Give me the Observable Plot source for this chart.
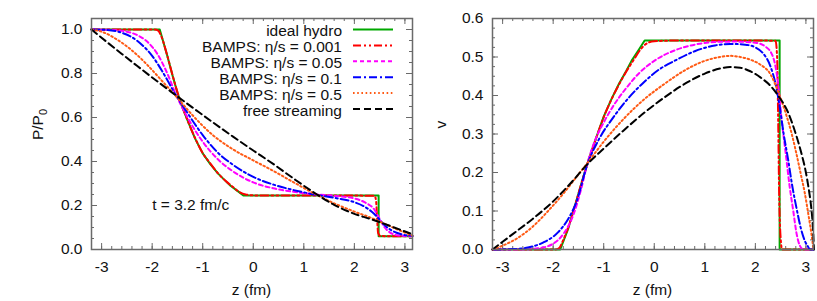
<!DOCTYPE html>
<html><head><meta charset="utf-8">
<script src="https://cdn.jsdelivr.net/npm/d3@7"></script>
<script src="https://cdn.jsdelivr.net/npm/@observablehq/plot@0.6"></script>
<style>
body{margin:0;background:#fff;}
#wrap{position:relative;width:817px;height:301px;overflow:hidden;background:#fff;}
#wrap svg{position:absolute;top:0;background:transparent;}
</style></head><body><div id="wrap"></div>
<script>
// ---------- series ----------
const seriesNames = ["ideal hydro", "BAMPS: η/s = 0.001", "BAMPS: η/s = 0.05", "BAMPS: η/s = 0.1", "BAMPS: η/s = 0.5", "free streaming"];
const seriesColors = ["#00a800", "#ff0000", "#ff00ff", "#0000ff", "#ff5a14", "#000000"];
const seriesDash = [null, "8,3,2,3,2,3", "4,3", "8,3,2,3", "1.6,2.6", "7,4"];

// ---------- axes ----------
const xTicks = [-3, -2, -1, 0, 1, 2, 3];
const pTicks = [0, 0.2, 0.4, 0.6, 0.8, 1.0];
const vTicks = [0, 0.1, 0.2, 0.3, 0.4, 0.5, 0.6];
const annotation = "t = 3.2 fm/c";
const annotationAt = [-2.0, 0.2];

// ---------- left panel: P/P0 vs z ----------
const zP_ideal = [-3.2, -1.85, -1.7, -1.6, -1.5, -1.4, -1.3, -1.15, -1.0, -0.85, -0.7, -0.55, -0.45, -0.3, -0.19, 2.48, 2.48, 3.15];
const P_ideal  = [1, 1, 0.88, 0.793, 0.713, 0.645, 0.587, 0.504, 0.437, 0.388, 0.346, 0.312, 0.29, 0.264, 0.245, 0.245, 0.06, 0.06];

const zP_001 = [-3.2, -1.95, -1.88, -1.82, -1.7, -1.6, -1.5, -1.4, -1.3, -1.15, -1.0, -0.85, -0.7, -0.55, -0.4, -0.28, -0.15, 0.0, 0.5, 2.0, 2.4, 2.43, 2.45, 2.47, 2.52, 3.15];
const P_001  = [1, 1, 0.995, 0.97, 0.88, 0.795, 0.715, 0.647, 0.587, 0.506, 0.438, 0.391, 0.347, 0.312, 0.284, 0.262, 0.25, 0.246, 0.245, 0.245, 0.244, 0.22, 0.14, 0.075, 0.061, 0.06];

const zP_005 = [-3.2, -2.8, -2.5, -2.3, -2.1, -1.9, -1.7, -1.54, -1.3, -1.0, -0.7, -0.4, 0.0, 0.4, 0.8, 1.26, 1.6, 2.0, 2.2, 2.4, 2.5, 2.6, 2.7, 2.85, 3.15];
const P_005  = [1, 0.998, 0.99, 0.975, 0.945, 0.89, 0.8, 0.71, 0.6, 0.49, 0.41, 0.355, 0.305, 0.278, 0.262, 0.25, 0.244, 0.232, 0.215, 0.18, 0.14, 0.1, 0.078, 0.065, 0.06];

const zP_01 = [-3.2, -2.9, -2.6, -2.4, -2.2, -2.0, -1.8, -1.54, -1.3, -1.0, -0.7, -0.4, 0.0, 0.4, 0.8, 1.26, 1.6, 2.0, 2.2, 2.4, 2.5, 2.6, 2.75, 2.95, 3.15];
const P_01  = [1, 0.998, 0.985, 0.965, 0.93, 0.88, 0.81, 0.705, 0.62, 0.52, 0.44, 0.385, 0.33, 0.295, 0.27, 0.248, 0.235, 0.215, 0.195, 0.16, 0.135, 0.11, 0.085, 0.068, 0.062];

const zP_05 = [-3.2, -3.0, -2.7, -2.4, -2.1, -1.8, -1.54, -1.2, -0.8, -0.4, 0.0, 0.4, 0.8, 1.26, 1.6, 1.86, 2.0, 2.3, 2.53, 2.8, 3.15];
const P_05  = [1, 0.99, 0.955, 0.905, 0.84, 0.765, 0.7, 0.61, 0.52, 0.455, 0.405, 0.357, 0.305, 0.248, 0.21, 0.185, 0.172, 0.147, 0.124, 0.096, 0.063];

const zP_free = [-3.2, -2.9, -2.6, -2.3, -2.0, -1.7, -1.54, -1.2, -0.8, -0.4, 0.0, 0.4, 0.8, 1.26, 1.6, 1.86, 2.0, 2.3, 2.53, 2.8, 3.15];
const P_free  = [1, 0.944, 0.889, 0.835, 0.782, 0.73, 0.702, 0.645, 0.578, 0.513, 0.45, 0.388, 0.322, 0.25, 0.203, 0.175, 0.162, 0.14, 0.122, 0.099, 0.069];

// ---------- right panel: v vs z ----------
const zv_ideal = [-3.2, -1.86, -1.7, -1.6, -1.5, -1.4, -1.3, -1.15, -1.0, -0.85, -0.7, -0.55, -0.45, -0.3, -0.19, 2.48, 2.48, 3.15];
const v_ideal  = [0, 0, 0.055, 0.1, 0.145, 0.19, 0.232, 0.29, 0.345, 0.39, 0.43, 0.465, 0.49, 0.52, 0.543, 0.543, 0, 0];

const zv_001 = [-3.2, -1.95, -1.88, -1.8, -1.7, -1.6, -1.5, -1.4, -1.3, -1.15, -1.0, -0.85, -0.7, -0.55, -0.4, -0.28, -0.15, 0.0, 0.5, 2.0, 2.4, 2.43, 2.45, 2.47, 2.5, 2.53, 3.15];
const v_001  = [0, 0, 0.004, 0.025, 0.058, 0.1, 0.145, 0.19, 0.231, 0.289, 0.344, 0.389, 0.428, 0.463, 0.494, 0.518, 0.535, 0.541, 0.543, 0.543, 0.542, 0.5, 0.35, 0.15, 0.03, 0, 0];

const zv_005 = [-3.2, -2.6, -2.3, -2.0, -1.8, -1.6, -1.45, -1.32, -1.15, -1.0, -0.8, -0.55, -0.3, 0.0, 0.4, 0.8, 1.2, 1.6, 2.0, 2.2, 2.35, 2.45, 2.52, 2.6, 2.68, 2.75, 2.81, 2.88, 2.95, 3.15];
const v_005  = [0, 0, 0.003, 0.015, 0.04, 0.09, 0.155, 0.225, 0.29, 0.33, 0.375, 0.42, 0.458, 0.49, 0.517, 0.532, 0.539, 0.54, 0.537, 0.527, 0.5, 0.43, 0.337, 0.25, 0.162, 0.1, 0.045, 0.01, 0, 0];

const zv_01 = [-3.2, -2.8, -2.5, -2.2, -1.9, -1.7, -1.55, -1.32, -1.1, -0.8, -0.5, -0.2, 0.1, 0.4, 0.8, 1.2, 1.5, 1.8, 2.0, 2.15, 2.3, 2.4, 2.48, 2.56, 2.65, 2.73, 2.81, 2.9, 2.98, 3.04, 3.08, 3.15];
const v_01  = [0, 0.001, 0.005, 0.018, 0.045, 0.08, 0.12, 0.222, 0.285, 0.345, 0.395, 0.435, 0.468, 0.49, 0.515, 0.53, 0.534, 0.532, 0.525, 0.51, 0.475, 0.43, 0.372, 0.3, 0.232, 0.165, 0.11, 0.055, 0.022, 0.008, 0, 0];

const zv_05 = [-3.2, -3.0, -2.7, -2.4, -2.1, -1.8, -1.5, -1.32, -1.0, -0.6, -0.2, 0.2, 0.6, 1.0, 1.3, 1.5, 1.7, 1.9, 2.1, 2.3, 2.45, 2.62, 2.72, 2.81, 2.9, 2.98, 3.05, 3.11, 3.15];
const v_05  = [0, 0.01, 0.03, 0.06, 0.1, 0.145, 0.195, 0.225, 0.28, 0.34, 0.39, 0.43, 0.465, 0.49, 0.5, 0.503, 0.5, 0.493, 0.48, 0.455, 0.41, 0.346, 0.3, 0.25, 0.195, 0.145, 0.09, 0.04, 0];

const zv_free = [-3.2, -2.8, -2.4, -2.0, -1.6, -1.3, -1.0, -0.6, -0.2, 0.2, 0.6, 1.0, 1.3, 1.5, 1.7, 1.9, 2.1, 2.3, 2.45, 2.65, 2.8, 2.9, 3.0, 3.05, 3.1, 3.13, 3.16];
const v_free  = [0, 0.04, 0.08, 0.125, 0.18, 0.225, 0.262, 0.31, 0.355, 0.395, 0.43, 0.457, 0.47, 0.474, 0.472, 0.463, 0.447, 0.425, 0.4, 0.355, 0.3, 0.255, 0.2, 0.162, 0.115, 0.074, 0];

// ---------- build tables ----------
function table(zs, vs) { return zs.map((z, i) => ({z, v: vs[i]})); }
const leftSeries = [table(zP_ideal, P_ideal), table(zP_001, P_001), table(zP_005, P_005), table(zP_01, P_01), table(zP_05, P_05), table(zP_free, P_free)];
const rightSeries = [table(zv_ideal, v_ideal), table(zv_001, v_001), table(zv_005, v_005), table(zv_01, v_01), table(zv_05, v_05), table(zv_free, v_free)];

const FONT = "'Liberation Sans', Arial, Helvetica, sans-serif";
const FS = 15.5;
const H = 301, MT = 18, MB = 52;
const frameColor = "#6a6a6a";

function panel({series, yDomain, yTicks, yMinorStep, width, marginLeft, marginRight, annotate}) {
  const innerH = H - MT - MB;
  const innerW = width - marginLeft - marginRight;
  const xMinor = d3.range(-16, 16).map(i => +(i * 0.2).toFixed(2));
  const nY = Math.round(yDomain[1] / yMinorStep);
  const yMinor = d3.range(0, nY + 1).map(i => +(i * yMinorStep).toFixed(4));
  const tickStyle = {stroke: frameColor, strokeWidth: 1};
  const marks = [
    Plot.tickX(xMinor, {x: d => d, insetTop: innerH - 3, ...tickStyle}),
    Plot.tickX(xMinor, {x: d => d, insetBottom: innerH - 3, ...tickStyle}),
    Plot.tickX(xTicks, {x: d => d, insetTop: innerH - 6, ...tickStyle}),
    Plot.tickX(xTicks, {x: d => d, insetBottom: innerH - 6, ...tickStyle}),
    Plot.tickY(yMinor, {y: d => d, insetRight: innerW - 3, ...tickStyle}),
    Plot.tickY(yMinor, {y: d => d, insetLeft: innerW - 3, ...tickStyle}),
    Plot.tickY(yTicks, {y: d => d, insetRight: innerW - 6, ...tickStyle}),
    Plot.tickY(yTicks, {y: d => d, insetLeft: innerW - 6, ...tickStyle}),
    Plot.axisX(xTicks, {tickSize: 0, tickPadding: 11, tickFormat: d => String(d), label: null, fill: "#111"}),
    Plot.axisY(yTicks, {tickSize: 0, tickPadding: 9, tickFormat: d3.format(".1f"), label: null, fill: "#111"}),
  ];
  series.forEach((data, i) => {
    const curve = (i === 0) ? "linear" : "monotone-x";
    marks.push(Plot.line(data, {x: "z", y: "v", stroke: seriesColors[i], strokeWidth: 2,
      strokeDasharray: seriesDash[i] || undefined, curve, strokeLinejoin: "round"}));
  });
  if (annotate) {
    marks.push(Plot.text([annotation], {x: annotationAt[0], y: annotationAt[1], text: d => d, textAnchor: "start", fill: "#111", fontSize: FS}));
  }
  marks.push(Plot.frame({stroke: frameColor, strokeWidth: 1.5}));
  return Plot.plot({
    width, height: H, marginTop: MT, marginBottom: MB, marginLeft, marginRight,
    x: {domain: [-3.2, 3.15]},
    y: {domain: yDomain},
    style: {fontSize: FS + "px", fontFamily: FONT, background: "transparent", overflow: "visible"},
    marks
  });
}

const wrap = document.getElementById("wrap");

// Left panel
const left = panel({series: leftSeries, yDomain: [0, 1.05], yTicks: pTicks, yMinorStep: 0.05,
  width: 414, marginLeft: 91, marginRight: 2, annotate: true});
left.style.left = "0px";
wrap.appendChild(left);

// Right panel
const right = panel({series: rightSeries, yDomain: [0, 0.6], yTicks: vTicks, yMinorStep: 0.025,
  width: 403, marginLeft: 78, marginRight: 4, annotate: false});
right.style.left = "414px";
wrap.appendChild(right);

// Axis titles
function addLabels(svg, xCenter, yLabelX, yLabel) {
  const s = d3.select(svg);
  s.append("text").attr("x", xCenter).attr("y", 289).attr("text-anchor", "middle")
    .attr("dominant-baseline", "central").attr("fill", "#111")
    .style("font-family", FONT).style("font-size", FS + "px").text("z (fm)");
  const t = s.append("text").attr("transform", `translate(${yLabelX},${(MT + H - MB) / 2 - 9}) rotate(-90)`)
    .attr("text-anchor", "middle").attr("dominant-baseline", "central").attr("fill", "#111")
    .style("font-family", FONT).style("font-size", FS + "px");
  yLabel(t);
}
addLabels(left, (91 + 412) / 2, 37, t => {
  t.append("tspan").text("P/P");
  t.append("tspan").attr("baseline-shift", "sub").style("font-size", "11px").text("0");
});
addLabels(right, (78 + 399) / 2, 26, t => { t.text("v"); });

// Legend (inside left panel, top right)
const lg = d3.select(left).append("g").style("font-family", FONT).style("font-size", FS + "px");
seriesNames.forEach((name, i) => {
  const y = 29.5 + i * 15.9;
  lg.append("text").attr("x", 342).attr("y", y + 1).attr("text-anchor", "end")
    .attr("dominant-baseline", "central").attr("fill", "#111").text(name);
  lg.append("line").attr("x1", 353).attr("x2", 393).attr("y1", y).attr("y2", y)
    .attr("stroke", seriesColors[i]).attr("stroke-width", 2)
    .attr("stroke-dasharray", seriesDash[i]);
});
</script></body></html>
